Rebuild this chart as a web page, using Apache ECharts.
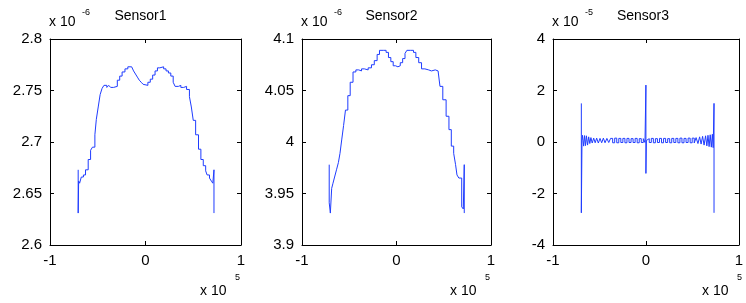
<!DOCTYPE html>
<html>
<head>
<meta charset="utf-8">
<script src="https://cdn.jsdelivr.net/npm/echarts@6/dist/echarts.min.js"></script>
<style>
  html, body { margin: 0; padding: 0; background: #fff; }
  #chart { width: 746px; height: 303px; }
</style>
</head>
<body>
<div id="chart"></div>
<script>
// subplot titles and the exponent text ("x 10^n") of each axis
const titles = ['Sensor1', 'Sensor2', 'Sensor3'];
const yExponents = ['-6', '-6', '-5'];
const xExponent = '5';

// axis ranges (x in units of 1e5, y in units of yExponents)
const xRange = [-1, 1, 1];
const yRanges = [[2.6, 2.8, 0.05], [3.9, 4.1, 0.05], [-4, 4, 2]];

// traces: each [x, y] holds its level until the next x
const sensor1 = [
  [-0.705, 2.673], [-0.705, 2.631], [-0.700, 2.662], [-0.690, 2.660], [-0.672, 2.666],
  [-0.650, 2.668], [-0.628, 2.673], [-0.600, 2.683], [-0.575, 2.692], [-0.555, 2.695],
  [-0.530, 2.707], [-0.515, 2.722], [-0.495, 2.734], [-0.475, 2.746], [-0.455, 2.752],
  [-0.435, 2.755], [-0.405, 2.753], [-0.385, 2.755], [-0.365, 2.753], [-0.335, 2.754],
  [-0.295, 2.760], [-0.270, 2.764], [-0.245, 2.768], [-0.215, 2.771], [-0.185, 2.773],
  [-0.145, 2.772], [-0.125, 2.769], [-0.105, 2.766], [-0.085, 2.763], [-0.065, 2.760],
  [-0.045, 2.758], [-0.025, 2.756], [-0.005, 2.755], [0.025, 2.758], [0.050, 2.761],
  [0.075, 2.765], [0.100, 2.769], [0.125, 2.772], [0.150, 2.773], [0.190, 2.771],
  [0.215, 2.769], [0.240, 2.767], [0.265, 2.764], [0.290, 2.758], [0.310, 2.754],
  [0.345, 2.755], [0.370, 2.753], [0.400, 2.754], [0.430, 2.751], [0.460, 2.744],
  [0.480, 2.734], [0.500, 2.721], [0.525, 2.707], [0.555, 2.693], [0.580, 2.683],
  [0.605, 2.677], [0.630, 2.672], [0.645, 2.668], [0.670, 2.665], [0.690, 2.662],
  [0.705, 2.660], [0.717, 2.673], [0.717, 2.631]
];

const sensor2 = [
  [-0.712, 3.978], [-0.712, 3.941], [-0.700, 3.931], [-0.686, 3.955], [-0.672, 3.960],
  [-0.655, 3.966], [-0.635, 3.973], [-0.615, 3.980], [-0.598, 3.989], [-0.580, 4.002],
  [-0.560, 4.016], [-0.540, 4.031], [-0.515, 4.045], [-0.490, 4.058], [-0.460, 4.068],
  [-0.430, 4.070], [-0.400, 4.069], [-0.370, 4.071], [-0.340, 4.070], [-0.300, 4.072],
  [-0.265, 4.075], [-0.235, 4.079], [-0.205, 4.085], [-0.180, 4.089], [-0.140, 4.089],
  [-0.110, 4.087], [-0.085, 4.082], [-0.060, 4.078], [-0.035, 4.074], [-0.010, 4.073],
  [0.015, 4.074], [0.040, 4.077], [0.065, 4.081], [0.090, 4.086], [0.110, 4.089],
  [0.150, 4.089], [0.180, 4.087], [0.205, 4.082], [0.235, 4.077], [0.265, 4.071],
  [0.300, 4.070], [0.340, 4.069], [0.370, 4.070], [0.410, 4.069], [0.440, 4.070],
  [0.460, 4.054], [0.490, 4.041], [0.525, 4.025], [0.555, 4.012], [0.580, 3.996],
  [0.605, 3.989], [0.625, 3.978], [0.640, 3.968], [0.660, 3.965], [0.690, 3.937],
  [0.707, 3.935], [0.717, 3.978], [0.717, 3.931]
];

const sensor3 = [
  [-0.695, 1.50], [-0.695, -2.75], [-0.688, 0.05],
  [-0.682, 0.26], [-0.670, -0.16], [-0.660, 0.25], [-0.650, -0.14], [-0.640, 0.24],
  [-0.628, -0.12], [-0.616, 0.20], [-0.604, -0.06], [-0.592, 0.17], [-0.578, -0.04],
  [-0.562, 0.15], [-0.546, -0.03], [-0.530, 0.15], [-0.512, -0.04], [-0.494, 0.14],
  [-0.476, -0.03], [-0.458, 0.15], [-0.440, -0.03], [-0.420, 0.14], [-0.400, -0.02],
  [-0.380, 0.14], [-0.358, -0.03], [-0.336, 0.15], [-0.314, -0.03], [-0.292, 0.14],
  [-0.270, -0.02], [-0.248, 0.14], [-0.226, -0.03], [-0.204, 0.14], [-0.182, -0.02],
  [-0.160, 0.13], [-0.138, -0.02], [-0.116, 0.14], [-0.094, -0.03], [-0.072, 0.13],
  [-0.050, -0.02], [-0.028, 0.13], [-0.010, -0.02],
  [0.000, 2.21], [0.000, -1.22], [0.005, 0.06],
  [0.016, 0.13], [0.036, -0.02], [0.058, 0.14], [0.080, -0.03], [0.102, 0.13],
  [0.124, -0.02], [0.146, 0.14], [0.168, -0.03], [0.190, 0.14], [0.212, -0.02],
  [0.234, 0.13], [0.256, -0.03], [0.278, 0.14], [0.300, -0.02], [0.322, 0.14],
  [0.344, -0.03], [0.366, 0.15], [0.388, -0.03], [0.410, 0.14], [0.432, -0.02],
  [0.454, 0.15], [0.476, -0.03], [0.498, 0.15], [0.520, -0.04], [0.540, 0.17],
  [0.560, -0.06], [0.578, 0.20], [0.594, -0.08], [0.610, 0.22], [0.626, -0.12],
  [0.642, 0.24], [0.656, -0.15], [0.668, 0.26], [0.680, -0.18], [0.692, 0.28],
  [0.704, -0.20], [0.715, 0.30], [0.724, -0.22], [0.733, 1.50], [0.733, -2.75]
];

const traces = [sensor1, sensor2, sensor3];

// a level holds until the next x: add the corner points of the staircase
function toStairs(points) {
  const out = [];
  points.forEach((p, i) => {
    out.push(p);
    const next = points[i + 1];
    if (next) out.push([next[0], p[1]]);
  });
  return out;
}

const font = 'Liberation Sans, Arial, Helvetica, sans-serif';
const lineBlue = '#1f3cff';

// plot boxes in pixels
const boxes = [
  { left: 50, top: 39, width: 191, height: 206 },
  { left: 302, top: 39, width: 189, height: 206 },
  { left: 553, top: 39, width: 190, height: 206 }
];

const chart = echarts.init(document.getElementById('chart'), null, { renderer: 'canvas' });

const grid = [], xAxis = [], yAxis = [], series = [], graphic = [];

const frameLine = { show: true, onZero: false, lineStyle: { color: '#000', width: 1 } };
const tick = { show: true, inside: true, length: 4, lineStyle: { color: '#000', width: 1 } };

boxes.forEach((b, i) => {
  grid.push({ left: b.left, top: b.top, width: b.width, height: b.height, containLabel: false });

  const xBase = { type: 'value', gridIndex: i, min: xRange[0], max: xRange[1], interval: xRange[2],
    splitLine: { show: false }, axisLine: frameLine, axisTick: tick };
  xAxis.push(Object.assign({}, xBase, { position: 'bottom',
    axisLabel: { color: '#000', fontSize: 15, fontFamily: font, margin: 8 } }));
  xAxis.push(Object.assign({}, xBase, { position: 'top', axisLabel: { show: false } }));

  const r = yRanges[i];
  const yBase = { type: 'value', gridIndex: i, min: r[0], max: r[1], interval: r[2],
    splitLine: { show: false }, axisLine: frameLine, axisTick: tick };
  yAxis.push(Object.assign({}, yBase, { position: 'left',
    axisLabel: { color: '#000', fontSize: 15, fontFamily: font, margin: 8 } }));
  yAxis.push(Object.assign({}, yBase, { position: 'right', axisLabel: { show: false } }));

  series.push({
    type: 'line', xAxisIndex: i * 2, yAxisIndex: i * 2,
    data: toStairs(traces[i]), smooth: false, showSymbol: false, symbol: 'none',
    sampling: null, lineStyle: { color: lineBlue, width: 1 }, silent: true
  });

  const cx = b.left + b.width / 2;
  graphic.push({ type: 'text', x: cx - 5, y: 16,
    style: { text: titles[i], font: '14px ' + font, fill: '#000', textAlign: 'center', textVerticalAlign: 'middle' } });
  graphic.push({ type: 'text', x: b.left - 1, y: 22,
    style: { text: 'x 10', font: '14px ' + font, fill: '#000', textAlign: 'left', textVerticalAlign: 'middle' } });
  graphic.push({ type: 'text', x: b.left + 32, y: 13,
    style: { text: yExponents[i], font: '9px ' + font, fill: '#000', textAlign: 'left', textVerticalAlign: 'middle' } });
  graphic.push({ type: 'text', x: b.left + b.width - 41, y: 291,
    style: { text: 'x 10', font: '14px ' + font, fill: '#000', textAlign: 'left', textVerticalAlign: 'middle' } });
  graphic.push({ type: 'text', x: b.left + b.width - 6, y: 278,
    style: { text: xExponent, font: '9px ' + font, fill: '#000', textAlign: 'left', textVerticalAlign: 'middle' } });
});

chart.setOption({
  backgroundColor: '#fff',
  animation: false,
  grid, xAxis, yAxis, series, graphic
});
</script>
</body>
</html>
